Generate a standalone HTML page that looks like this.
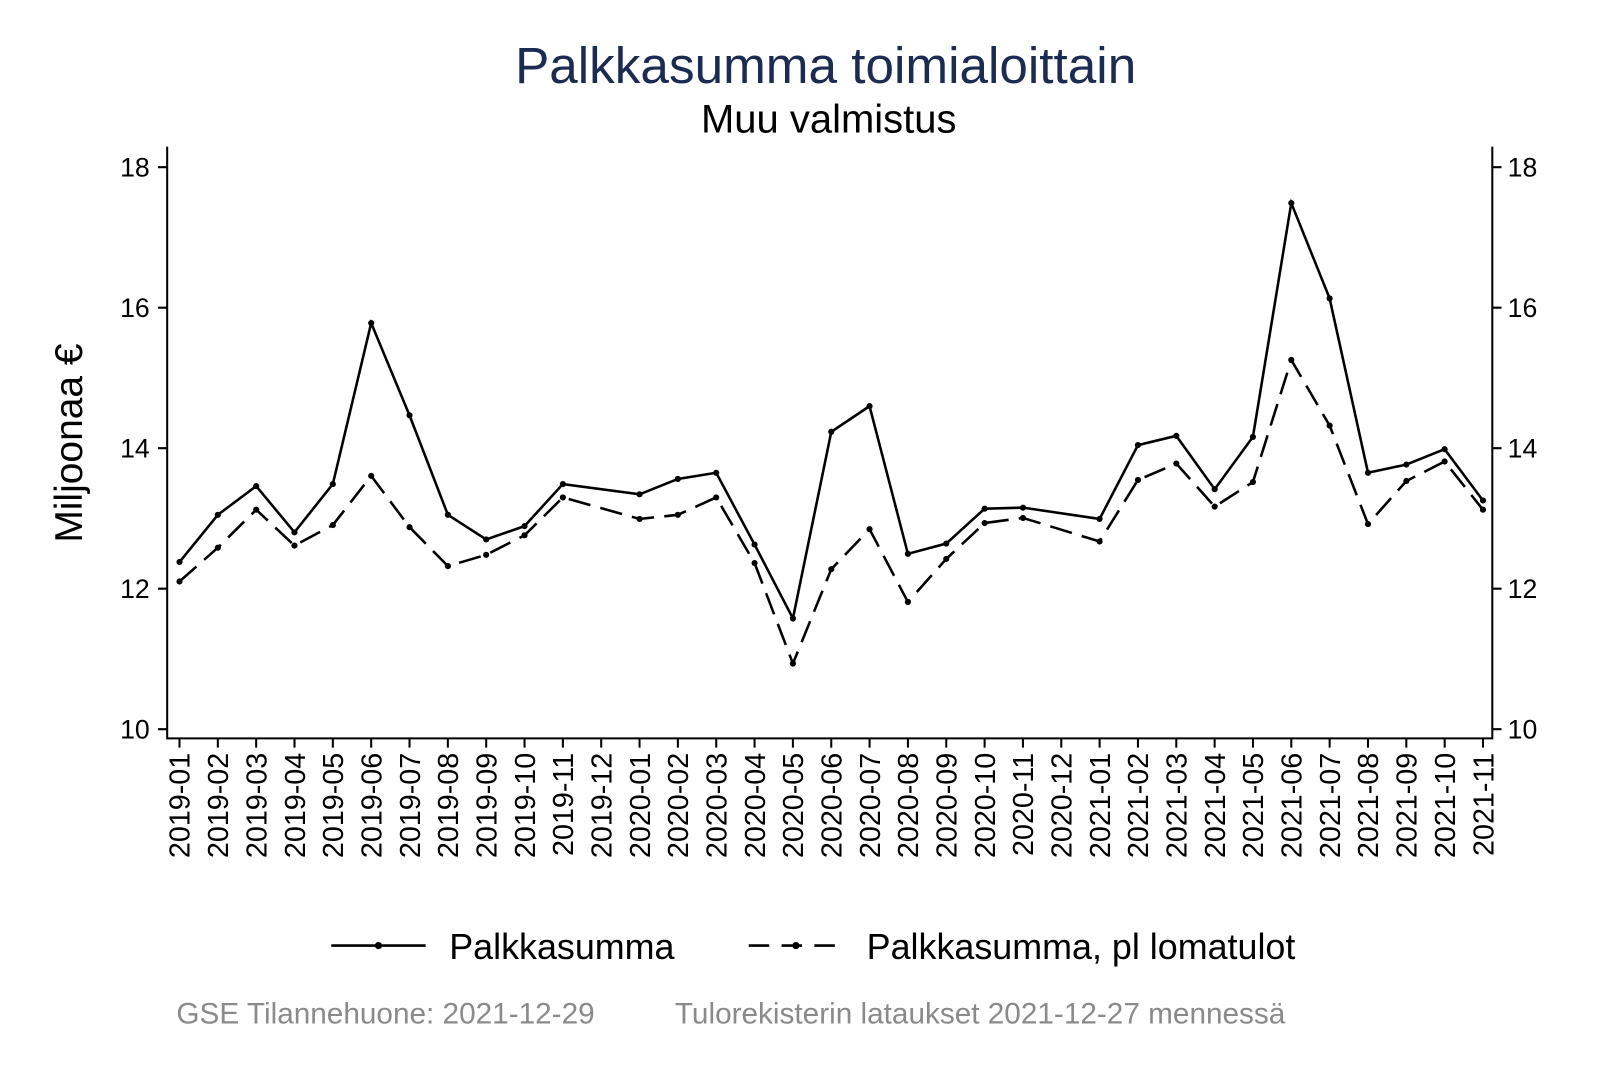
<!DOCTYPE html>
<html><head><meta charset="utf-8"><style>
html,body{margin:0;padding:0;background:#fff;}
svg{display:block;font-family:"Liberation Sans",Arial,sans-serif;}
</style></head><body>
<svg width="1600" height="1067" viewBox="0 0 1560 1040.4" preserveAspectRatio="none" xmlns="http://www.w3.org/2000/svg">
<rect width="1560" height="1040.4" fill="#fff"/>
<text x="805" y="81" text-anchor="middle" font-size="50" fill="#1c2b52">Palkkasumma toimialoittain</text>
<text x="808" y="129" text-anchor="middle" font-size="39" fill="#000">Muu valmistus</text>
<g stroke="#000" stroke-width="2" fill="none">
<path d="M163,143 V720 H1455 V143"/>
<path d="M163,163 h-9 M163,300 h-9 M163,437 h-9 M163,574 h-9 M163,711 h-9"/>
<path d="M1455,163 h9 M1455,300 h9 M1455,437 h9 M1455,574 h9 M1455,711 h9"/>
</g>
<g font-size="26" fill="#000">
<text x="146" y="172" text-anchor="end">18</text><text x="146" y="309" text-anchor="end">16</text><text x="146" y="446" text-anchor="end">14</text><text x="146" y="583" text-anchor="end">12</text><text x="146" y="720" text-anchor="end">10</text>
<text x="1470" y="172">18</text><text x="1470" y="309">16</text><text x="1470" y="446">14</text><text x="1470" y="583">12</text><text x="1470" y="720">10</text>
</g>
<text transform="translate(80,432) rotate(-90)" text-anchor="middle" font-size="38">Miljoonaa €</text>
<g id="xt" stroke="#000" stroke-width="2"></g>
<g id="xl" font-size="28"></g>
<polyline fill="none" stroke="#000" stroke-width="2.5" points="175,548 212.4,502 249.8,474 287.1,519 324.5,472 361.9,315 399.3,405 436.7,502 474,526 511.4,513 548.8,472 623.6,482 660.9,467 698.3,461 735.7,531 773.1,603 810.5,421 847.8,396 885.2,540 922.6,530 960,496 997.4,495 1072.1,506 1109.5,434 1146.9,425 1184.3,477 1221.6,426 1259,198 1296.4,291 1333.8,461 1371.2,453 1408.5,438 1445.9,488"/>
<polyline fill="none" stroke="#000" stroke-width="2.5" stroke-dasharray="22,10" points="175,567 212.4,534 249.8,497 287.1,532 324.5,512 361.9,464 399.3,514 436.7,552 474,541 511.4,522 548.8,485 623.6,506 660.9,502 698.3,485 735.7,549 773.1,647 810.5,555 847.8,516 885.2,587 922.6,545 960,510 997.4,505 1072.1,528 1109.5,468 1146.9,452 1184.3,494 1221.6,470 1259,351 1296.4,415 1333.8,511 1371.2,469 1408.5,450 1445.9,497"/>
<g id="dots" fill="#000"></g>
<g stroke="#000" stroke-width="2.5"><line x1="323" y1="922" x2="415" y2="922"/><line x1="730" y1="922" x2="822" y2="922" stroke-dasharray="20,12"/></g>
<circle cx="369" cy="922" r="3.5"/><circle cx="776" cy="922" r="3.5"/>
<text x="438" y="935" font-size="35">Palkkasumma</text>
<text x="845" y="935" font-size="35">Palkkasumma, pl lomatulot</text>
<text x="172" y="998" font-size="29" fill="#8a8a8a">GSE Tilannehuone: 2021-12-29</text>
<text x="658" y="998" font-size="29" fill="#8a8a8a">Tulorekisterin lataukset 2021-12-27 mennessä</text>
<script>
var ns="http://www.w3.org/2000/svg";
var xt=document.getElementById("xt"),xl=document.getElementById("xl");
var k=0;
for(var y=2019;y<=2021;y++)for(var m=1;m<=12;m++){if(k>34)break;var x=175+k*37.38;
var l=document.createElementNS(ns,"line");l.setAttribute("x1",x);l.setAttribute("x2",x);l.setAttribute("y1",720);l.setAttribute("y2",729);xt.appendChild(l);
var t=document.createElementNS(ns,"text");t.setAttribute("transform","translate("+(x+10)+",734) rotate(-90)");t.setAttribute("text-anchor","end");t.textContent=y+"-"+(m<10?"0"+m:m);xl.appendChild(t);k++;}
var d=document.getElementById("dots");
document.querySelectorAll("polyline").forEach(function(p){p.getAttribute("points").trim().split(/\s+/).forEach(function(s){var a=s.split(",");var c=document.createElementNS(ns,"circle");c.setAttribute("cx",a[0]);c.setAttribute("cy",a[1]);c.setAttribute("r",3);d.appendChild(c);});});
</script>
</svg>
</body></html>
